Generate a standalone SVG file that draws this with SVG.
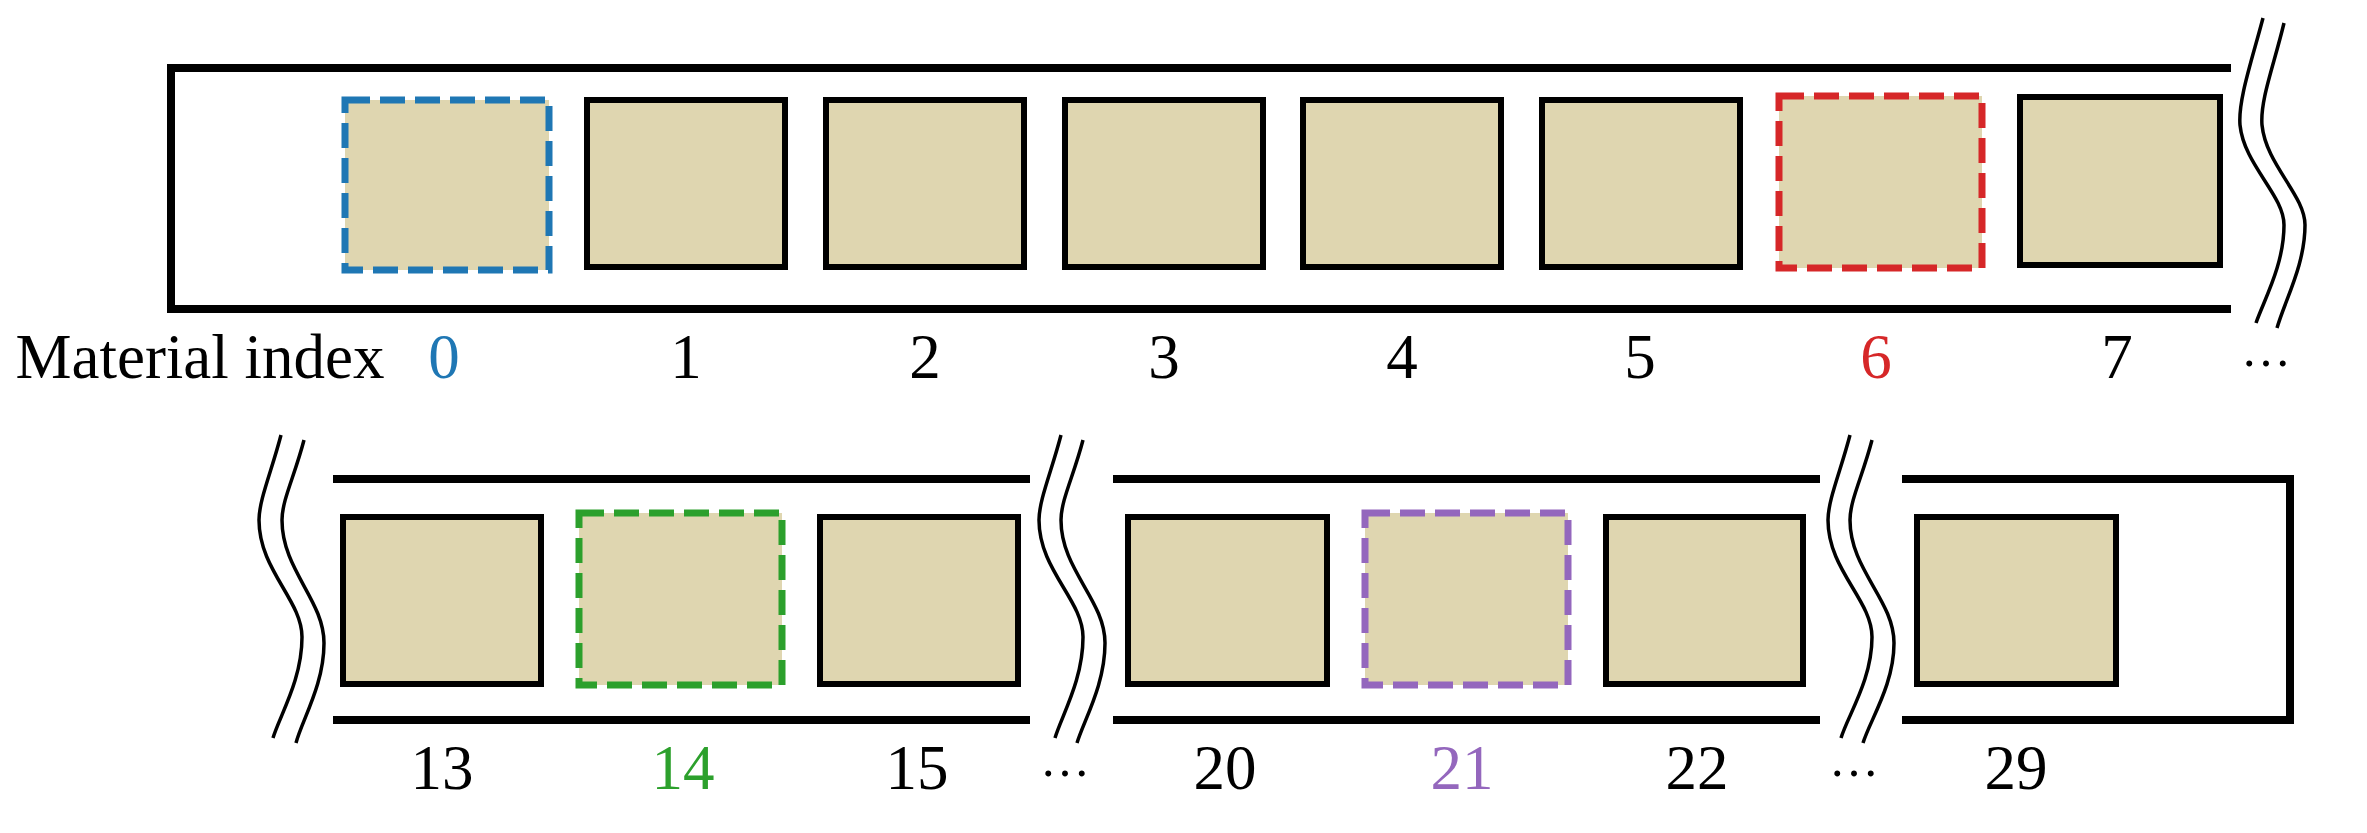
<svg xmlns="http://www.w3.org/2000/svg" width="2367" height="833" viewBox="0 0 2367 833">
<style>
.box{fill:#dfd6b0;stroke:#000;stroke-width:6}
.sel{fill:#dfd6b0;stroke-width:7;stroke-dasharray:25 10}
.rail{stroke:#000;stroke-width:8;fill:none}
.brk{stroke:#000;stroke-width:3.5;fill:none}
text{font-family:"Liberation Serif","Times New Roman",serif;font-size:63px;text-anchor:middle}
.dots{font-size:50px}
</style>
<rect width="2367" height="833" fill="#fff"/>
<g id="connectors">
<path class="rail" d="M2231,68 H171 V309 H2231"/>
<path class="rail" d="M333,479 H1030 M333,720 H1030"/>
<path class="rail" d="M1113,479 H1820 M1113,720 H1820"/>
<path class="rail" d="M1902,479 H2290 V720 H1902"/>
<path class="brk" d="M2263,18 C2252,60 2238,100 2240,125 C2244,165 2284,195 2284,225 C2284,265 2264,300 2256,323"/>
<path class="brk" d="M2284,23 C2274,65 2260,100 2262,125 C2266,165 2305,195 2305,225 C2305,265 2285,300 2277,328"/>
<path class="brk" d="M281,435 C272,470 259,500 259,520 C259,570 302,600 302,637 C302,680 280,715 273,738"/>
<path class="brk" d="M304,440 C295,475 282,500 282,520 C282,570 324,600 324,643 C324,685 302,720 296,743"/>
<path class="brk" d="M1061,435 C1052,470 1039,500 1039,520 C1039,570 1083,600 1083,637 C1083,680 1062,715 1055,738"/>
<path class="brk" d="M1083,440 C1074,475 1061,500 1061,520 C1061,570 1105,600 1105,643 C1105,685 1084,720 1077,743"/>
<path class="brk" d="M1850,435 C1841,470 1828,500 1828,520 C1828,570 1872,600 1872,637 C1872,680 1848,715 1841,738"/>
<path class="brk" d="M1872,440 C1863,475 1850,500 1850,520 C1850,570 1894,600 1894,643 C1894,685 1870,720 1863,743"/>
</g>
<g id="n0"><rect class="sel" stroke="#1f77b4" x="345" y="100" width="204" height="170"/><text x="444" y="378" fill="#1f77b4">0</text></g>
<g id="n1"><rect class="box" x="587" y="100" width="198" height="167"/><text x="686" y="378">1</text></g>
<g id="n2"><rect class="box" x="826" y="100" width="198" height="167"/><text x="925" y="378">2</text></g>
<g id="n3"><rect class="box" x="1065" y="100" width="198" height="167"/><text x="1164" y="378">3</text></g>
<g id="n4"><rect class="box" x="1303" y="100" width="198" height="167"/><text x="1402" y="378">4</text></g>
<g id="n5"><rect class="box" x="1542" y="100" width="198" height="167"/><text x="1640" y="378">5</text></g>
<g id="n6"><rect class="sel" stroke="#d62728" x="1779" y="96" width="203" height="172"/><text x="1876" y="378" fill="#d62728">6</text></g>
<g id="n7"><rect class="box" x="2020" y="97" width="200" height="168"/><text x="2117" y="378">7</text></g>
<text x="200" y="378">Material index</text>
<text class="dots" x="2266" y="366">…</text>
<g id="n13"><rect class="box" x="343" y="517" width="198" height="167"/><text x="442" y="789">13</text></g>
<g id="n14"><rect class="sel" stroke="#2ca02c" x="579" y="513" width="203" height="172"/><text x="683" y="789" fill="#2ca02c">14</text></g>
<g id="n15"><rect class="box" x="820" y="517" width="198" height="167"/><text x="917" y="789">15</text></g>
<text class="dots" x="1065" y="776">…</text>
<g id="n20"><rect class="box" x="1128" y="517" width="199" height="167"/><text x="1225" y="789">20</text></g>
<g id="n21"><rect class="sel" stroke="#9467bd" x="1365" y="513" width="203" height="172"/><text x="1462" y="789" fill="#9467bd">21</text></g>
<g id="n22"><rect class="box" x="1606" y="517" width="197" height="167"/><text x="1697" y="789">22</text></g>
<text class="dots" x="1854" y="776">…</text>
<g id="n29"><rect class="box" x="1917" y="517" width="199" height="167"/><text x="2016" y="789">29</text></g>
</svg>
